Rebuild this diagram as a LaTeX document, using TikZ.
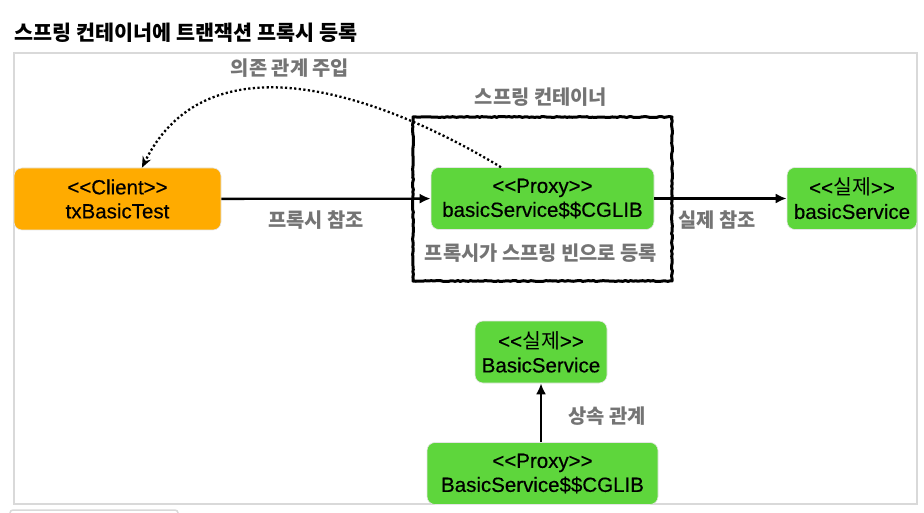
\documentclass[tikz,border=0pt]{standalone}
\usepackage{fontspec}
\setmainfont{Liberation Sans}[UprightFeatures={FakeBold=0.4}]
\newfontfamily\kr{Noto Sans CJK KR}
\usetikzlibrary{arrows.meta,decorations.pathmorphing}
\definecolor{orng}{HTML}{FFAB00}
\definecolor{grn}{HTML}{5ED63C}
\definecolor{lbgray}{HTML}{747474}
\definecolor{frm}{HTML}{D9D9D9}
\newcommand\stereo[1]{<{}<#1>{}>}
\tikzset{
  bx/.style={rectangle,rounded corners=8pt,draw=black!10,line width=.6pt,align=center,
    inner sep=0pt,minimum height=62pt,font=\fontsize{20.5}{24}\selectfont},
  cli/.style={bx,fill=orng},
  srv/.style={bx,fill=grn},
  lb/.style={font=\kr\bfseries\fontsize{19.8}{22}\selectfont,text=lbgray},
  ttl/.style={font=\kr\bfseries\fontsize{20.7}{24}\selectfont,text=black},
  ref/.style={-{Latex[length=11pt,width=10pt]},line width=2.3pt,draw=black},
  % dotted injection arc, the tip stays solid
  inj/.style={-{Stealth[length=11pt,width=9pt]},line width=2.3pt,dash pattern=on 2.2pt off 2.4pt,draw=black},
  ctn/.style={draw=black,line width=3pt,line join=round,decorate,
    decoration={random steps,segment length=2.5pt,amplitude=.5pt}},
}
\begin{document}
\begin{tikzpicture}[x=1pt,y=-1pt]
\useasboundingbox (0,0) rectangle (924,513);
\node[ttl,anchor=west] (title) at (11,33) {스프링 컨테이너에 트랜잭션 프록시 등록};
\draw[frm,line width=2pt] (14,53) rectangle (917,504);
\draw[frm,line width=1.5pt,rounded corners=3pt] (10,516) -- (10,510) -- (178,510) -- (178,516);

% spring container
\draw[ctn] (413,117) rectangle (672,281);
\node[lb] (ctnlb) at (541,97) {스프링 컨테이너};
\node[lb] (reglb) at (541,253) {프록시가 스프링 빈으로 등록};

% top row
\node[cli,minimum width=207pt] (client) at (117.5,199) {\stereo{Client}\\txBasicTest};
\node[srv,minimum width=223pt] (proxy) at (542.5,198.5) {\stereo{Proxy}\\basicService\$\$CGLIB};
\node[srv,minimum width=130pt] (real) at (852,198.5) {\stereo{{\kr 실제}}\\basicService};
\draw[ref] (client) -- (proxy);
\draw[ref] (proxy) -- (real);
\node[lb] (pxref) at (316,220) {프록시 참조};
\node[lb] (rlref) at (717,220) {실제 참조};
\draw[inj] (proxy.143.5) .. controls (390,100) and (210,30) .. (client.52.6);
\node[lb] (injlb) at (290,68) {의존 관계 주입};

% inheritance
\node[srv,minimum width=132pt] (bsvc) at (541,352) {\stereo{{\kr 실제}}\\BasicService};
\node[srv,minimum width=231pt] (bproxy) at (542.5,473.5) {\stereo{Proxy}\\BasicService\$\$CGLIB};
\draw[ref] (bproxy.north -| bsvc.south) -- (bsvc.south);
\node[lb] (inhlb) at (607,416) {상속 관계};
\end{tikzpicture}
\end{document}
